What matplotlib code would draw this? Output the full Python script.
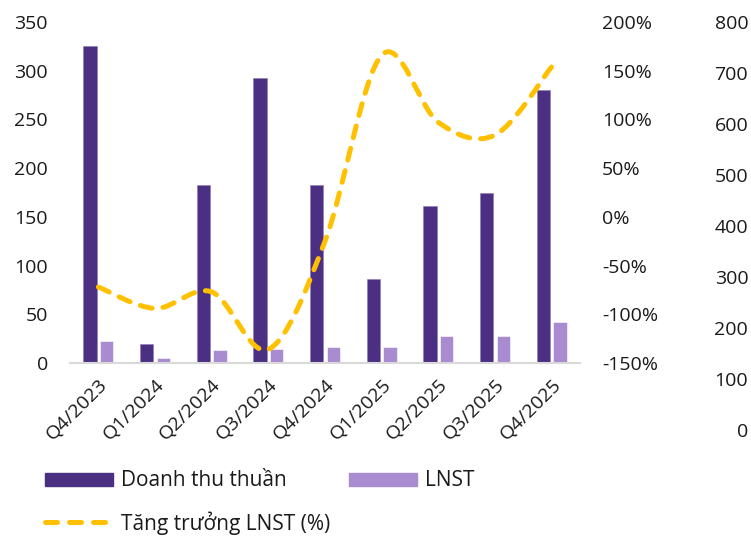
import matplotlib.pyplot as plt
from matplotlib.path import Path
from matplotlib.patches import PathPatch, Patch
from matplotlib.lines import Line2D

plt.rcParams['font.family'] = ['Open Sans', 'DejaVu Sans']

# data
quarters = ['Q4/2023', 'Q1/2024', 'Q2/2024', 'Q3/2024', 'Q4/2024',
            'Q1/2025', 'Q2/2025', 'Q3/2025', 'Q4/2025']
revenue = [325, 20, 183, 293, 183, 86, 161, 174, 280]
profit = [23, 5, 13, 14, 16, 16, 28, 28, 42]
growth = [-72, -94, -77, -136, -25, 166, 97, 84, 154]

DARK = '#4A2F82'
LIGHT = '#A98BCF'
YELLOW = '#FFC000'
FS = 14
LFS = 15
TXT = '#1a1a1a'

W, H = 751, 536
fig = plt.figure(figsize=(W / 100, H / 100), dpi=100)

# plot area in pixels: x 70..580, y 22..363
ax = fig.add_axes([70 / W, 1 - 363 / H, 510 / W, 341 / H])
x = list(range(len(quarters)))
off = 0.145
bw = 0.235
ax.bar([i - off for i in x], revenue, bw, color=DARK, edgecolor='#8F7BB8', lw=0.4, zorder=2)
ax.bar([i + off for i in x], profit, bw, color=LIGHT, edgecolor='white', lw=0.4, zorder=2)
ax.set_xlim(-0.5, len(quarters) - 0.5)
ax.set_ylim(0, 350)
ax.set_yticks(range(0, 351, 50))
ax.set_xticks(x)
ax.set_xticklabels(quarters, rotation=45, ha='right', rotation_mode='anchor')
for s in ['top', 'right', 'left']:
    ax.spines[s].set_visible(False)
ax.spines['bottom'].set_color('#D9D9D9')
ax.spines['bottom'].set_linewidth(1.5)
ax.tick_params(axis='y', length=0, pad=16, labelsize=FS, colors=TXT)
ax.tick_params(axis='x', length=0, pad=9, labelsize=FS, colors=TXT)

# growth axis
ax2 = ax.twinx()
ax2.set_ylim(-150, 200)
ax2.set_yticks(range(-150, 201, 50))
ax2.set_yticklabels([f'{v}%' for v in range(-150, 201, 50)])
for s in ax2.spines.values():
    s.set_visible(False)
ax2.tick_params(axis='y', length=0, pad=16, labelsize=FS, colors=TXT)

# smoothed line (Catmull-Rom converted to cubic Bezier)
pts = list(zip(x, growth))
verts = [pts[0]]
codes = [Path.MOVETO]
n = len(pts)
for i in range(n - 1):
    p0 = pts[i - 1] if i > 0 else pts[i]
    p1 = pts[i]
    p2 = pts[i + 1]
    p3 = pts[i + 2] if i + 2 < n else pts[i + 1]
    c1 = (p1[0] + (p2[0] - p0[0]) / 6, p1[1] + (p2[1] - p0[1]) / 6)
    c2 = (p2[0] - (p3[0] - p1[0]) / 6, p2[1] - (p3[1] - p1[1]) / 6)
    verts += [c1, c2, p2]
    codes += [Path.CURVE4] * 3
curve = PathPatch(Path(verts, codes), fill=False, edgecolor=YELLOW, lw=3.6,
                  linestyle=(0, (2.4, 2.2)), capstyle='round', zorder=3)
ax2.add_patch(curve)

# third, empty axis on the far right (0..800, y 22..430 px)
ax3 = fig.add_axes([751 / W, 1 - 430 / H, 0.001, 408 / H])
ax3.set_ylim(0, 800)
ax3.set_yticks(range(0, 801, 100))
ax3.set_xticks([])
for s in ax3.spines.values():
    s.set_visible(False)
ax3.tick_params(axis='y', length=0, pad=2, labelsize=FS, colors=TXT)
ax3.patch.set_visible(False)

# legend
h1 = Patch(color=DARK)
h2 = Patch(color=LIGHT)
h3 = Line2D([], [], color=YELLOW, lw=3.6, linestyle=(0, (2.4, 2.4)),
            dash_capstyle='round')
fig.legend([h1, h2], ['Doanh thu thuần', 'LNST'], ncol=2,
           loc='center left', bbox_to_anchor=(26 / W, 1 - 481 / H),
           frameon=False, fontsize=LFS, handlelength=3.27, handleheight=0.58,
           handletextpad=0.38, columnspacing=3.0, labelcolor=TXT)
fig.legend([h3], ['Tăng trưởng LNST (%)'], loc='center left',
           bbox_to_anchor=(26 / W, 1 - 523 / H), frameon=False, fontsize=LFS,
           handlelength=3.05, handletextpad=0.6, labelcolor=TXT)

fig.savefig('out.png', dpi=100)
